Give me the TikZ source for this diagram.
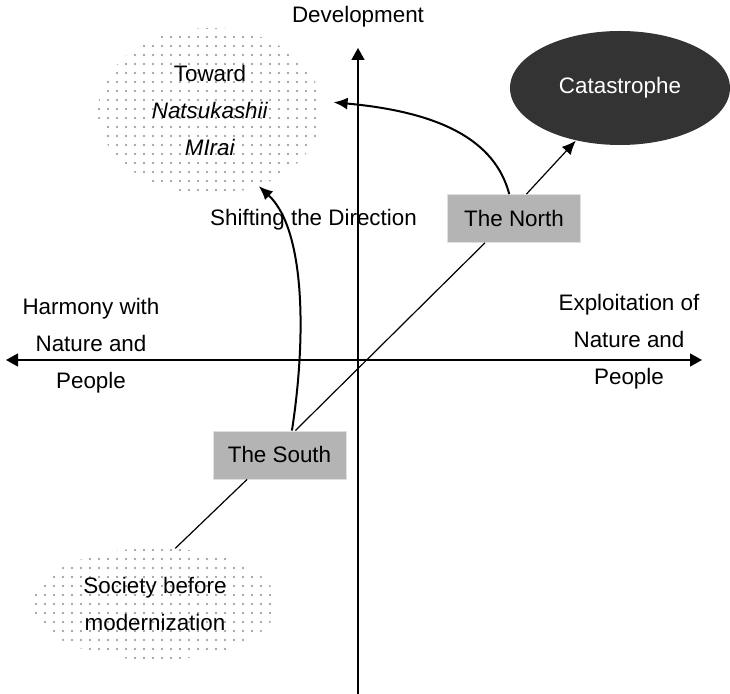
\documentclass[tikz,border=0pt]{standalone}
\usepackage{fontspec}
\setmainfont{Liberation Sans}
\usetikzlibrary{shapes.geometric,patterns.meta,arrows.meta}
\definecolor{boxgray}{RGB}{180,180,180}
\definecolor{catgray}{RGB}{51,51,51}

\begin{document}
\begin{tikzpicture}[x=0.5pt, y=-0.5pt]

\tikzstyle{every node} = [font=\fontsize{11.2}{18.5}\selectfont, align=center]
\tikzstyle{dotcloud} = [ellipse, inner sep=0pt, pattern={Dots[distance=4.5pt, radius=0.55pt]}, pattern color=gray!90]
\tikzstyle{zonebox} = [rectangle, fill=boxgray, draw=gray!25, minimum width=66.5pt, minimum height=24pt]
\tikzstyle{axisline} = [line width=0.8pt]
\tikzstyle{turnarrow} = [line width=1pt, -{Latex[length=7pt, width=6pt]}]

\useasboundingbox (0,0) rectangle (730,694);

\coordinate (west) at (6,360);
\coordinate (east) at (702,360);
\coordinate (bottom) at (358,694);
\coordinate (top) at (358,48);

\node (dev) at (358,17) {Development};
\node[dotcloud, minimum width=112pt, minimum height=83pt] (toward) at (210,111) {Toward\\\textit{Natsukashii}\\\textit{MIrai}};
\node[ellipse, fill=catgray, text=white, minimum width=110pt, minimum height=57pt] (cat) at (620,88) {Catastrophe};
\node[zonebox] (north) at (514,218.5) {The North};
\node[zonebox] (south) at (279.5,455) {The South};
\node[dotcloud, minimum width=122pt, minimum height=56pt] (soc) at (155,604) {Society before\\modernization};
\node (shifting) at (313.5,220) {Shifting the Direction};
\node (harmony) at (91,346) {Harmony with\\Nature and\\People};
\node (exploit) at (629,342) {Exploitation of\\Nature and\\People};

\draw[axisline, {Triangle[length=6pt, width=6.5pt]}-{Triangle[length=6pt, width=6.5pt]}] (west) -- (east);
\draw[axisline, -{Triangle[length=6pt, width=6.5pt]}] (bottom) -- (top);

\draw[line width=0.6pt] (soc.70) -- (south.217);
\draw[line width=0.6pt] (south.57) -- (north.220);
\draw[line width=0.6pt, -{Latex[length=7pt, width=6pt]}] (north.63) -- (cat.230);

\draw[turnarrow, shorten >=6pt] (north.101) .. controls (495,140) and (440,112) .. (toward.5);
\draw[turnarrow] (south.63) .. controls (306,340) and (306,230) .. (toward.303);
\end{tikzpicture}
\end{document}
